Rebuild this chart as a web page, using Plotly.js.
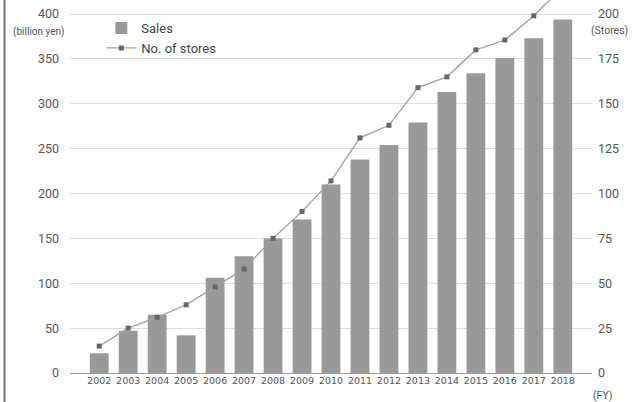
<!DOCTYPE html>
<html><head><meta charset="utf-8">
<script src="https://cdn.plot.ly/plotly-3.0.1.min.js"></script>
<style>body{margin:0;background:#fff}#c{width:637px;height:402px}</style>
</head><body><div id="c"></div>
<script>
const years = ["2002","2003","2004","2005","2006","2007","2008","2009","2010","2011","2012","2013","2014","2015","2016","2017","2018"];
const sales = [22,47,65,42,106,130,150,171,210,238,254,279,313,334,351,373,394];
const stores = [15,25,31,38,48,58,75,90,107,131,138,159,165,180,185.5,199,215];
const salesTicks = [0,50,100,150,200,250,300,350,400];
const storeTicks = [0,25,50,75,100,125,150,175,200];

const tickFont = {family:"Roboto, Arial, sans-serif", size:12.5, color:"#555"};
const data = [
  {type:"bar", x:years, y:sales, name:"Sales", marker:{color:"#999999"}, yaxis:"y"},
  {type:"scatter", mode:"lines+markers", x:years, y:stores, name:"No. of stores", yaxis:"y2",
   line:{color:"#a0a0a0", width:1.3}, marker:{symbol:"square", size:5, color:"#666"}, cliponaxis:true}
];
const layout = {
  width:637, height:402,
  margin:{l:70, r:45, t:0, b:29},
  paper_bgcolor:"#fff", plot_bgcolor:"#fff",
  bargap:0.35,
  showlegend:true,
  legend:{x:0.06, y:0.965, xanchor:"left", yanchor:"top", bgcolor:"rgba(0,0,0,0)",
    font:{family:"Roboto, Arial, sans-serif", size:13, color:"#444"}, tracegroupgap:0},
  xaxis:{type:"category", tickfont:{family:"DejaVu Sans, sans-serif", size:9.5, color:"#555"},
    showgrid:false, ticks:"", ticklabelstandoff:0, showline:false, fixedrange:true},
  yaxis:{range:[0,415.6], tickvals:salesTicks, ticktext:salesTicks.map(String), tickfont:tickFont,
    gridcolor:"#dddddd", gridwidth:1, zeroline:true, zerolinecolor:"#999", zerolinewidth:1,
    ticks:"", ticklabelstandoff:10, showline:false},
  yaxis2:{range:[0,207.8], overlaying:"y", side:"right", tickvals:storeTicks, ticktext:storeTicks.map(String),
    tickfont:tickFont, showgrid:false, zeroline:false, ticks:"", ticklabelstandoff:5, showline:false},
  annotations:[
    {xref:"paper", yref:"paper", x:(38-70)/522, y:(373-32)/373, xanchor:"center", yanchor:"middle",
     text:"(billion yen)", showarrow:false,
     font:{family:"Roboto, Arial, sans-serif", size:10, color:"#555"}},
    {xref:"paper", yref:"paper", x:(609-70)/522, y:(373-30)/373, xanchor:"center", yanchor:"middle",
     text:"(Stores)", showarrow:false,
     font:{family:"Roboto, Arial, sans-serif", size:10.5, color:"#555"}},
    {xref:"paper", yref:"paper", x:(602-70)/522, y:(373-395)/373, xanchor:"center", yanchor:"middle",
     text:"(FY)", showarrow:false,
     font:{family:"Roboto, Arial, sans-serif", size:10.5, color:"#555"}}
  ],
  shapes:[
    {type:"line", xref:"paper", yref:"paper", x0:(4.5-70)/522, x1:(4.5-70)/522, y0:-29/373, y1:1,
     line:{color:"#777", width:2}}
  ]
};
Plotly.newPlot("c", data, layout, {displayModeBar:false, staticPlot:true});
</script></body></html>
